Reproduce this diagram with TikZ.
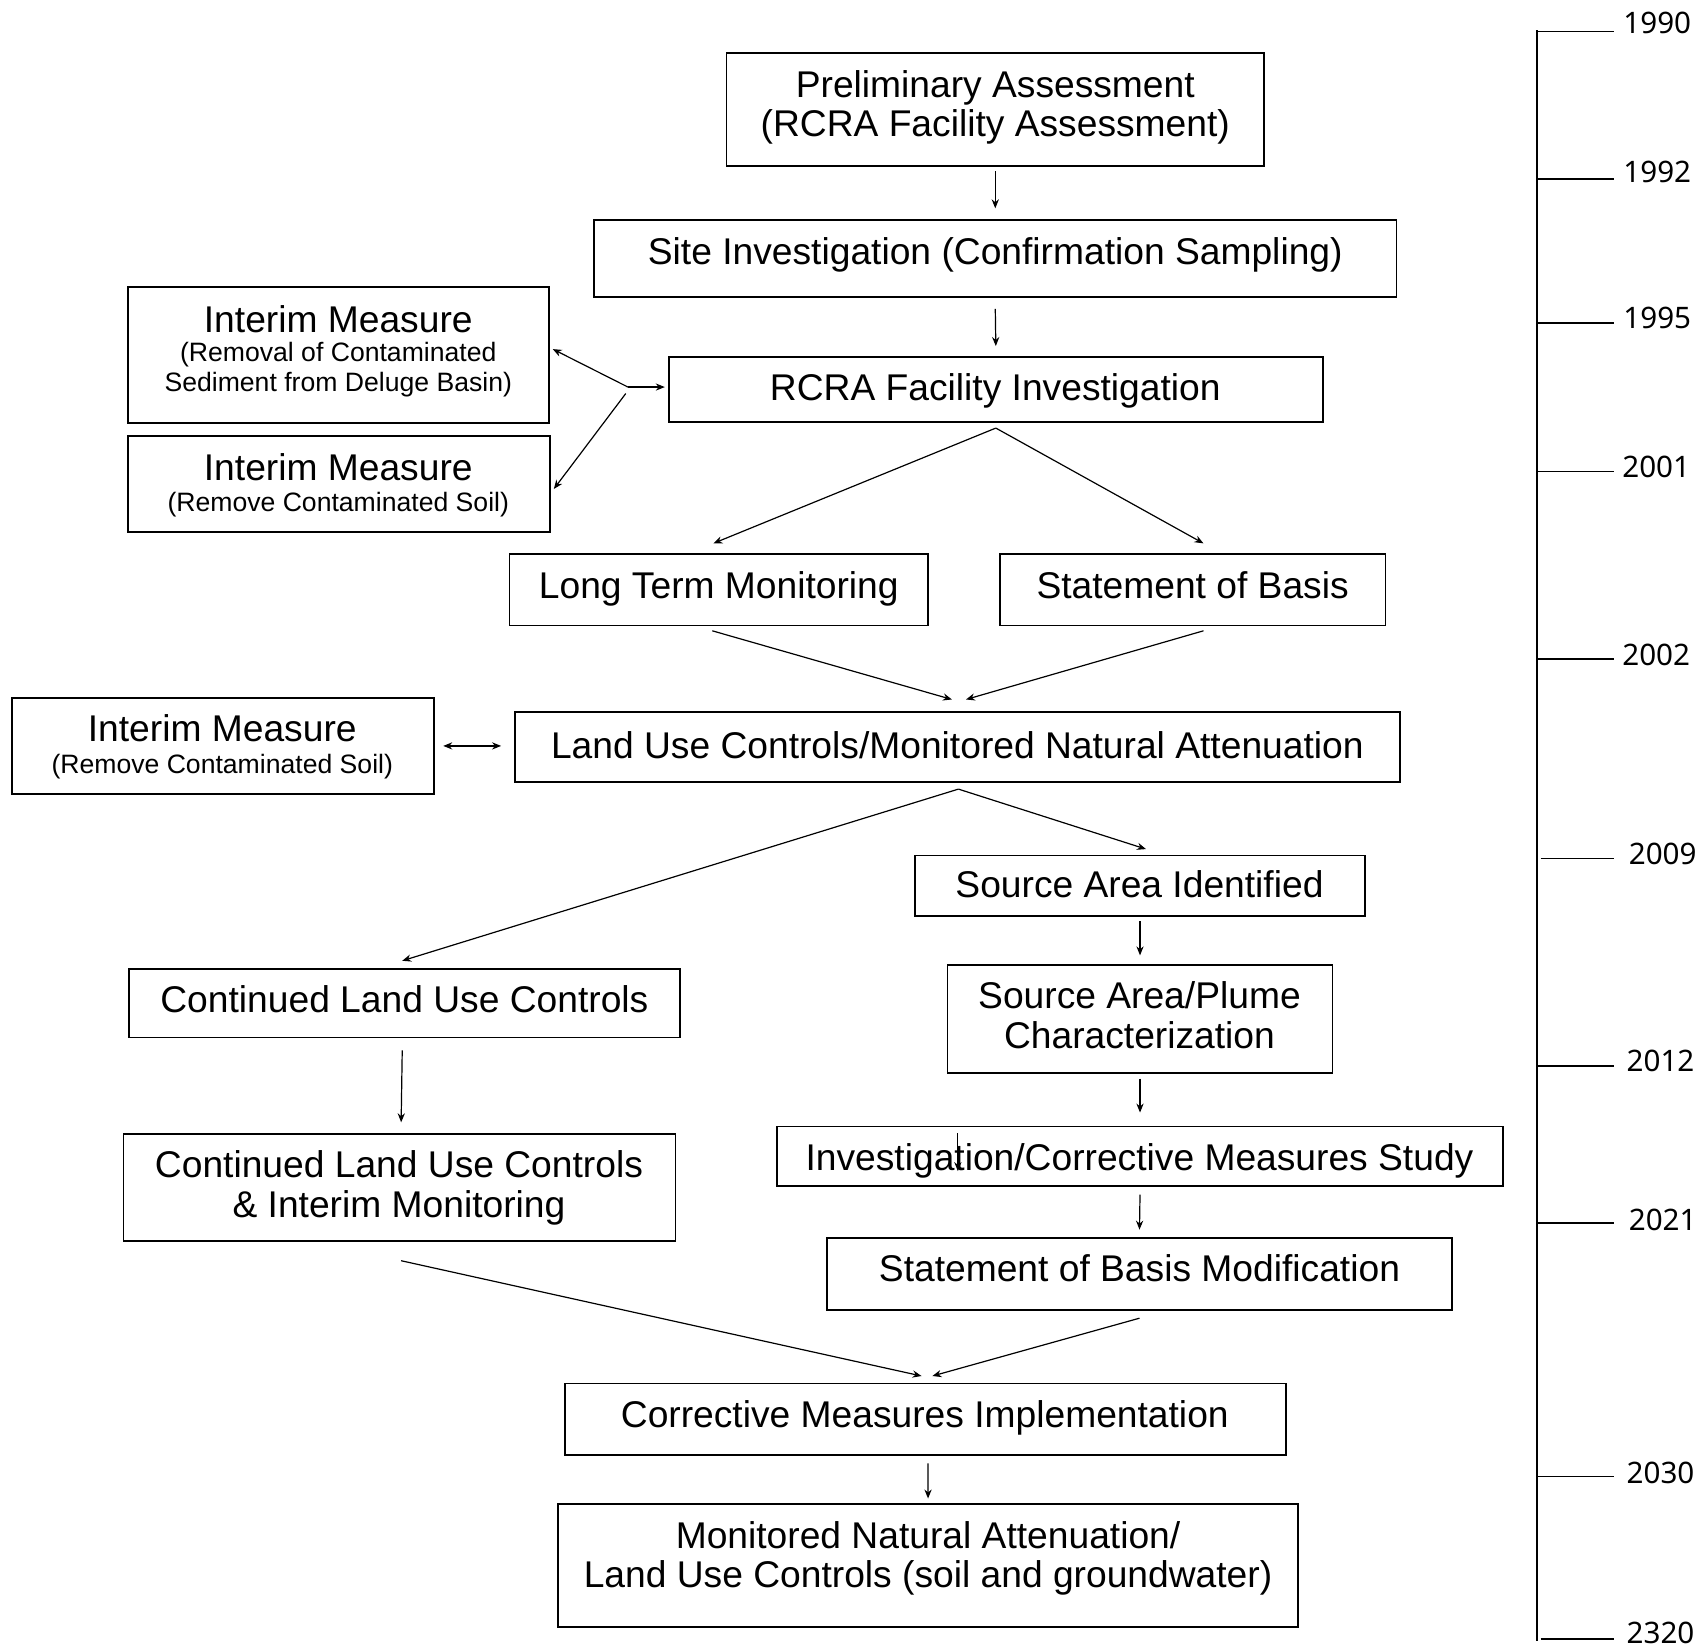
\documentclass[tikz,border=0pt]{standalone}
\usepackage{fontspec}
\setmainfont{Liberation Sans}
\newfontfamily\yearfont{Noto Sans}
\usetikzlibrary{arrows.meta,calc}
% one drawing unit
\def\pxu{0.5421pt}

\begin{document}
\begin{tikzpicture}[x=0.5421pt, y=-0.5421pt,
  box/.style={draw, line width=0.9pt, inner sep=0pt},
  big/.style={font=\fontsize{18.6}{19.5}\selectfont, text height=13.3pt, text depth=0pt, inner sep=0pt},
  small/.style={font=\fontsize{13.3}{14.6}\selectfont, text height=9.5pt, text depth=0pt, inner sep=0pt},
  arr/.style={-{Stealth[length=4.5pt,width=3.6pt]}, line width=0.6pt},
  darr/.style={{Stealth[length=4.5pt,width=3.6pt]}-{Stealth[length=4.5pt,width=3.6pt]}, line width=0.6pt},
  year/.style={font=\yearfont\fontsize{14.8}{16}\selectfont, anchor=west, text height=10.5pt, text depth=0pt, inner sep=0pt},
  axis/.style={line width=1pt},
  tick/.style={line width=0.8pt},
]
\useasboundingbox[fill=white] (0,0) rectangle (1568,1521);

% ---------- boxes ----------
\node[box, minimum width=496*\pxu, minimum height=104*\pxu] (pa)  at (918,101) {};
\node[box, minimum width=740*\pxu, minimum height=71*\pxu]  (si)  at (918,238.5) {};
\node[box, minimum width=603*\pxu, minimum height=60*\pxu]  (rfi) at (918.5,359) {};
\node[box, minimum width=388*\pxu, minimum height=125*\pxu] (im1) at (312,327.5) {};
\node[box, minimum width=389*\pxu, minimum height=89*\pxu]  (im2) at (312.5,446.5) {};
\node[box, minimum width=386*\pxu, minimum height=66*\pxu]  (ltm) at (663,544) {};
\node[box, minimum width=356*\pxu, minimum height=66*\pxu]  (sob) at (1100,544) {};
\node[box, minimum width=389*\pxu, minimum height=88*\pxu]  (im3) at (205.5,688) {};
\node[box, minimum width=816*\pxu, minimum height=64*\pxu]  (luc) at (883,689) {};
\node[box, minimum width=415*\pxu, minimum height=56*\pxu]  (sai) at (1051.5,817) {};
\node[box, minimum width=508*\pxu, minimum height=63*\pxu]  (clu) at (373,925.5) {};
\node[box, minimum width=355*\pxu, minimum height=100*\pxu] (sap) at (1051.5,940) {};
\node[box, minimum width=509*\pxu, minimum height=99*\pxu]  (clm) at (368.5,1095.5) {};
\node[box, minimum width=669*\pxu, minimum height=55*\pxu]  (icm) at (1051.5,1066.5) {};
\node[box, minimum width=576*\pxu, minimum height=66*\pxu]  (sbm) at (1051,1175) {};
\node[box, minimum width=665*\pxu, minimum height=66*\pxu]  (cmi) at (853.5,1309) {};
\node[box, minimum width=682*\pxu, minimum height=114*\pxu] (mna) at (856,1444) {};

% ---------- box texts ----------
\node[big] (pa-a) at (918,78)  {Preliminary Assessment};
\node[big] (pa-b) at (918,114) {(RCRA Facility Assessment)};
\node[big] (si-a) at (918,232) {Site Investigation (Confirmation Sampling)};
\node[big] (rfi-a) at (918,357) {RCRA Facility Investigation};
\node[big]   (im1-a) at (312,294) {Interim Measure};
\node[small] (im1-b) at (312,325) {(Removal of Contaminated};
\node[small] (im1-c) at (312,352) {Sediment from Deluge Basin)};
\node[big]   (im2-a) at (312,431) {Interim Measure};
\node[small] (im2-b) at (312,463) {(Remove Contaminated Soil)};
\node[big] (ltm-a) at (663,540)  {Long Term Monitoring};
\node[big] (sob-a) at (1100,540) {Statement of Basis};
\node[big]   (im3-a) at (205,672) {Interim Measure};
\node[small] (im3-b) at (205,705) {(Remove Contaminated Soil)};
\node[big] (luc-a) at (883,687) {Land Use Controls/Monitored Natural Attenuation};
\node[big] (sai-a) at (1051,816) {Source Area Identified};
\node[big] (clu-a) at (373,922) {Continued Land Use Controls};
\node[big] (sap-a) at (1051,918) {Source Area/Plume};
\node[big] (sap-b) at (1051,955) {Characterization};
\node[big] (clm-a) at (368,1074) {Continued Land Use Controls};
\node[big] (clm-b) at (368,1111) {\& Interim Monitoring};
\node[big] (icm-a) at (1051,1067) {Investigation/Corrective Measures Study};
\node[big] (sbm-a) at (1051,1170) {Statement of Basis Modification};
\node[big] (cmi-a) at (853,1304) {Corrective Measures Implementation};
\node[big] (mna-a) at (856,1416) {Monitored Natural Attenuation/};
\node[big] (mna-b) at (856,1452) {Land Use Controls (soil and groundwater)};

% ---------- connectors ----------
\draw[arr] ($(pa.south)+(0,4)$) -- ($(si.north)+(0,-10)$);
\draw[arr] ($(si.south)+(0,10)$) -- ($(rfi.north)+(0,-9)$);

\coordinate (j) at ($(rfi.west)+(-37,-2)$);
\draw[arr] (j) -- ($(rfi.west)+(-3,-2)$);
\draw[arr] (j) -- ($(im1.east)+(3,-5.5)$);
\draw[arr] ($(j)+(-2,6)$) -- ($(im2.east)+(3,4.5)$);

\coordinate (rfi-out) at ($(rfi.south)+(0,5)$);
\draw[arr] (rfi-out) -- ($(ltm.north)+(-5,-9)$);
\draw[arr] (rfi-out) -- ($(sob.north)+(10,-9)$);

\draw[arr] ($(ltm.south)+(-6,4)$) -- ($(luc.north)+(-5,-11)$);
\draw[arr] ($(sob.south)+(10,4)$) -- ($(luc.north)+(8,-11)$);

\draw[darr] ($(im3.east)+(8,0)$) -- ($(luc.west)+(-12,-1)$);

\coordinate (luc-out) at ($(luc.south)+(1,6)$);
\draw[arr] (luc-out) -- ($(clu.north)+(-2,-7)$);
\draw[arr] (luc-out) -- ($(sai.north)+(5.5,-5)$);

\draw[arr] ($(sai.south)+(0,4)$) -- ($(sap.north)+(0,-8)$);
\draw[arr] ($(clu.south)+(-2,11)$) -- ($(clm.north)+(1.5,-10)$);
\draw[arr] ($(sap.south)+(0,4)$) -- ($(icm.north)+(0,-12)$);
\draw[arr] ($(icm.north)+(-168,7)$) -- ($(icm.north)+(-168,42)$);
\draw[arr] ($(icm.south)+(0,7)$) -- ($(sbm.north)+(0,-7)$);
\draw[arr] ($(clm.south)+(1.5,17)$) -- ($(cmi.north)+(-3.5,-6)$);
\draw[arr] ($(sbm.south)+(0,7)$) -- ($(cmi.north)+(6.5,-6)$);
\draw[arr] ($(cmi.south)+(2.5,7)$) -- ($(mna.north)+(0,-4)$);

% ---------- time axis ----------
\draw[axis] (1418,28) -- (1418,1514);
\foreach \yy/\xs in {29/1418,165/1418,298/1418,435/1418,608/1418,792/1421,983/1418,1128/1418,1362/1418,1512/1421}
  \draw[tick] (\xs,\yy) -- (1489,\yy);
\node[year] (y1990) at (1497,21)   {1990};
\node[year] (y1992) at (1497,159)  {1992};
\node[year] (y1995) at (1497,293)  {1995};
\node[year] (y2001) at (1496,431)  {2001};
\node[year] (y2002) at (1496,604)  {2002};
\node[year] (y2009) at (1502,788)  {2009};
\node[year] (y2012) at (1500,979)  {2012};
\node[year] (y2021) at (1502,1125) {2021};
\node[year] (y2030) at (1500,1359) {2030};
\node[year] (y2320) at (1500,1506) {2320};
\end{tikzpicture}
\end{document}
